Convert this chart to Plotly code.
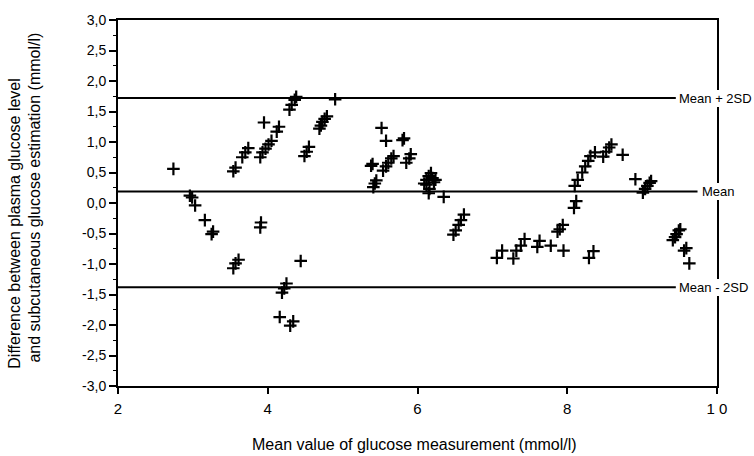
import plotly.graph_objects as go

# ---- data ----
mean_x = [
    2.74, 2.96, 2.99, 3.03, 3.16, 3.25, 3.27,
    3.54, 3.57, 3.66, 3.70, 3.74, 3.90, 3.93, 3.97, 4.01, 4.05, 3.95,
    4.12, 4.15, 4.29, 4.32, 4.36, 4.38, 4.49, 4.52, 4.55,
    4.69, 4.71, 4.73, 4.76, 4.79, 4.90,
    3.90, 3.91, 3.54, 3.57, 3.61, 4.44, 4.19, 4.22, 4.25, 4.16, 4.30, 4.34,
    5.52, 5.58, 5.80, 5.82, 5.38, 5.40,
    5.54, 5.58, 5.61, 5.65, 5.68, 5.85, 5.89, 5.91, 5.41, 5.43, 5.45,
    6.09, 6.12, 6.15, 6.18, 6.20, 6.22, 6.24, 6.16, 6.15, 6.12, 6.35,
    6.48, 6.51, 6.55, 6.58, 6.62,
    7.06, 7.13, 7.28, 7.32, 7.38, 7.43, 7.60, 7.63, 7.78, 7.95,
    7.87, 7.90, 7.94, 8.09, 8.12,
    8.10, 8.14, 8.20, 8.24, 8.28, 8.31, 8.37, 8.48, 8.52, 8.56, 8.59,
    8.74, 8.91, 9.01, 9.04, 9.07, 9.10, 9.12, 8.29, 8.35,
    9.41, 9.44, 9.46, 9.49, 9.51, 9.56, 9.59, 9.63,
]
diff_y = [
    0.56, 0.12, 0.09, -0.04, -0.28, -0.51, -0.47,
    0.52, 0.58, 0.75, 0.83, 0.90, 0.75, 0.83, 0.89, 0.96, 1.02, 1.32,
    1.17, 1.25, 1.53, 1.61, 1.69, 1.74, 0.77, 0.84, 0.92,
    1.22, 1.27, 1.33, 1.38, 1.42, 1.70,
    -0.40, -0.32, -1.07, -0.99, -0.93, -0.95, -1.47, -1.40, -1.32, -1.87, -2.01, -1.94,
    1.23, 1.02, 1.03, 1.06, 0.61, 0.64,
    0.53, 0.60, 0.66, 0.73, 0.77, 0.66, 0.73, 0.80, 0.26, 0.32, 0.37,
    0.32, 0.38, 0.44, 0.49, 0.41, 0.34, 0.38, 0.23, 0.16, 0.30, 0.10,
    -0.52, -0.45, -0.36, -0.28, -0.19,
    -0.90, -0.78, -0.91, -0.78, -0.70, -0.59, -0.72, -0.62, -0.70, -0.78,
    -0.47, -0.43, -0.36, -0.08, 0.03,
    0.28, 0.38, 0.50, 0.60, 0.69, 0.77, 0.83, 0.76, 0.84, 0.91, 0.96,
    0.79, 0.39, 0.17, 0.23, 0.28, 0.33, 0.36, -0.90, -0.79,
    -0.61, -0.56, -0.51, -0.45, -0.43, -0.78, -0.74, -0.99,
]

ref_values = [1.72, 0.19, -1.38]
ref_labels = ["Mean + 2SD", "Mean", "Mean - 2SD"]
ref_line_end = [9.45, 9.74, 9.45]
ref_label_x = [9.48, 9.79, 9.48]

x_tickvals = [2, 4, 6, 8, 10]
x_ticktext = ["2", "4", "6", "8", "1 0"]
y_tickvals = [3.0, 2.5, 2.0, 1.5, 1.0, 0.5, 0.0, -0.5, -1.0, -1.5, -2.0, -2.5, -3.0]
y_ticktext = ["3,0", "2,5", "2,0", "1,5", "1,0", "0,5", "0,0", "-0,5", "-1,0",
              "-1,5", "-2,0", "-2,5", "-3,0"]

x_title = "Mean value of glucose measurement (mmol/l)"
y_title_1 = "Difference between plasma glucose level"
y_title_2 = "and subcutaneous glucose estimation (mmol/l)"

FONT = "Liberation Sans, Arial, Helvetica, sans-serif"

fig = go.Figure()
fig.add_trace(go.Scatter(
    x=mean_x, y=diff_y, mode="markers",
    marker=dict(symbol="cross-thin", size=9, color="black",
                line=dict(width=2.2, color="black")),
    showlegend=False, hoverinfo="x+y",
))

shapes = []
annotations = []
for v, lab, xe, xl in zip(ref_values, ref_labels, ref_line_end, ref_label_x):
    shapes.append(dict(type="line", xref="x", yref="y", x0=2, x1=xe, y0=v, y1=v,
                       line=dict(color="black", width=2), layer="above"))
    annotations.append(dict(xref="x", yref="y", x=xl, y=v, text=lab,
                            showarrow=False, xanchor="left", yanchor="middle",
                            font=dict(family=FONT, size=13, color="black"),
                            bgcolor="white", borderpad=1, borderwidth=0))

# axis titles
annotations.append(dict(xref="paper", yref="paper", x=(414 - 118) / 599, y=(386 - 445) / 371,
                        text=x_title, showarrow=False, xanchor="center", yanchor="middle",
                        font=dict(family=FONT, size=16, color="black")))
annotations.append(dict(xref="paper", yref="paper", x=(14.5 - 118) / 599, y=(386 - 221) / 371,
                        text=y_title_1, showarrow=False, xanchor="center", yanchor="middle",
                        textangle=-90, font=dict(family=FONT, size=16, color="black")))
annotations.append(dict(xref="paper", yref="paper", x=(35 - 118) / 599, y=(386 - 195) / 371,
                        text=y_title_2, showarrow=False, xanchor="center", yanchor="middle",
                        textangle=-90, font=dict(family=FONT, size=16, color="black")))

fig.update_layout(
    width=754, height=456,
    margin=dict(l=118, r=37, t=15, b=70),
    paper_bgcolor="white", plot_bgcolor="white",
    shapes=shapes, annotations=annotations,
    xaxis=dict(range=[2, 10], tickvals=x_tickvals, ticktext=x_ticktext,
               showgrid=False, zeroline=False, showline=True, mirror=True,
               linecolor="black", linewidth=2, ticks="outside", ticklen=6,
               tickwidth=1.5, tickcolor="black",
               tickfont=dict(family=FONT, size=15, color="black"),
               ticklabelstandoff=2),
    yaxis=dict(range=[-3, 3], tickvals=y_tickvals, ticktext=y_ticktext,
               showgrid=False, zeroline=False, showline=True, mirror=True,
               linecolor="black", linewidth=2, ticks="outside", ticklen=7,
               tickwidth=1.5, tickcolor="black",
               tickfont=dict(family=FONT, size=14, color="black"),
               minor=dict(dtick=0.25, tick0=0, ticks="outside", ticklen=3,
                          tickwidth=1, tickcolor="black", showgrid=False)),
)

fig.write_html("out.html")
